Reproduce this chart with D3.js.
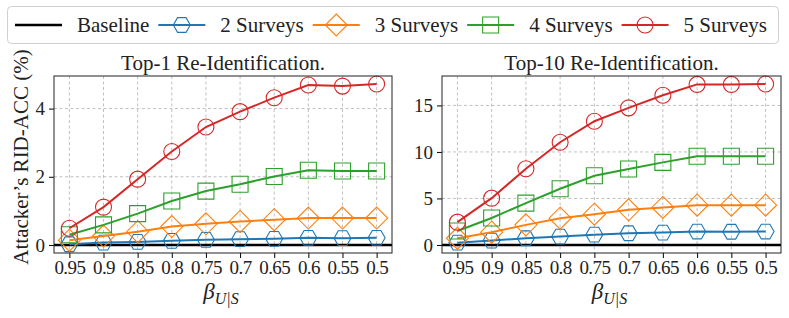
<!DOCTYPE html>
<html>
<head>
<meta charset="utf-8">
<script src="https://cdn.jsdelivr.net/npm/d3@7"></script>
<style>
  body { margin: 0; background: #fff; }
  svg { font-family: "Liberation Serif", "DejaVu Serif", serif; }
  svg text { font-family: "Liberation Serif", "DejaVu Serif", serif !important; }
  .grid line { stroke: #b0b0b0; stroke-width: 0.8; stroke-dasharray: 3,2.5; }
  .axis path, .axis line { stroke: #000; }
</style>
</head>
<body>
<svg id="chart" width="789" height="318"></svg>
<script>
// x categories (beta_{U|S})
var betas = ['0.95', '0.9', '0.85', '0.8', '0.75', '0.7', '0.65', '0.6', '0.55', '0.5'];

// Top-1 re-identification accuracy (%)
var top1Two = [0.02, 0.07, 0.09, 0.12, 0.15, 0.17, 0.18, 0.21, 0.20, 0.21];
var top1Three = [0.14, 0.26, 0.39, 0.54, 0.62, 0.69, 0.74, 0.79, 0.79, 0.79];
var top1Four = [0.30, 0.59, 0.92, 1.29, 1.58, 1.78, 2.01, 2.19, 2.17, 2.17];
var top1Five = [0.49, 1.11, 1.93, 2.74, 3.46, 3.91, 4.32, 4.69, 4.66, 4.72];

// Top-10 re-identification accuracy (%)
var top10Two = [0.25, 0.47, 0.72, 0.90, 1.11, 1.26, 1.33, 1.44, 1.42, 1.44];
var top10Three = [0.72, 1.37, 2.16, 2.88, 3.31, 3.78, 4.03, 4.28, 4.28, 4.28];
var top10Four = [1.50, 2.90, 4.50, 6.04, 7.44, 8.16, 8.88, 9.53, 9.53, 9.53];
var top10Five = [2.45, 5.03, 8.20, 11.04, 13.30, 14.74, 16.10, 17.26, 17.26, 17.30];

var baseline = 0;

var top1Ticks = [0, 2, 4];
var top10Ticks = [0, 5, 10, 15];

var seriesNames = ['Baseline', '2 Surveys', '3 Surveys', '4 Surveys', '5 Surveys'];
var colors = ['#000000', '#1f77b4', '#ff7f0e', '#2ca02c', '#d62728'];
var markers = [null, 'hex', 'diamond', 'square', 'circle'];

var svg = d3.select('#chart');

function markerPath(type) {
  var p = d3.path();
  if (type === 'circle') {
    p.arc(0, 0, 8, 0, 2 * Math.PI);
  } else if (type === 'square') {
    p.rect(-8, -8, 16, 16);
  } else if (type === 'diamond') {
    p.moveTo(0, -11); p.lineTo(11, 0); p.lineTo(0, 11); p.lineTo(-11, 0); p.closePath();
  } else if (type === 'hex') {
    for (var k = 0; k < 6; k++) {
      var a = k * Math.PI / 3;
      var px = 8.5 * Math.cos(a), py = 8.5 * Math.sin(a);
      if (k === 0) p.moveTo(px, py); else p.lineTo(px, py);
    }
    p.closePath();
  }
  return p.toString();
}

function panel(opts) {
  var g = svg.append('g');
  var n = betas.length;
  var x = d3.scaleLinear().domain([-0.45, n - 1 + 0.45]).range([opts.x0, opts.x1]);
  var allVals = [].concat.apply([baseline], opts.series);
  var lo = d3.min(allVals), hi = d3.max(allVals), pad = (hi - lo) * 0.05;
  var y = d3.scaleLinear().domain([lo - pad, hi + pad]).range([opts.y1, opts.y0]);

  // grid
  var grid = g.append('g').attr('class', 'grid');
  grid.selectAll('.gx').data(betas).enter().append('line')
    .attr('x1', (d, i) => x(i)).attr('x2', (d, i) => x(i))
    .attr('y1', opts.y0).attr('y2', opts.y1);
  grid.selectAll('.gy').data(opts.ticks).enter().append('line')
    .attr('x1', opts.x0).attr('x2', opts.x1)
    .attr('y1', d => y(d)).attr('y2', d => y(d));

  // baseline
  g.append('line')
    .attr('x1', opts.x0).attr('x2', opts.x1)
    .attr('y1', y(baseline)).attr('y2', y(baseline))
    .attr('stroke', '#000').attr('stroke-width', 2.5);

  var line = d3.line().x((d, i) => x(i)).y(d => y(d));

  opts.series.forEach(function(vals, s) {
    var c = colors[s + 1];
    g.append('path').attr('d', line(vals))
      .attr('fill', 'none').attr('stroke', c).attr('stroke-width', 2);
    g.selectAll('.m' + s).data(vals).enter().append('path')
      .attr('transform', (d, i) => `translate(${x(i)},${y(d)})`)
      .attr('d', markerPath(markers[s + 1]))
      .attr('fill', 'none').attr('stroke', c).attr('stroke-width', 1.1);
  });

  // axes
  var xa = g.append('g').attr('class', 'axis')
    .attr('transform', `translate(0,${opts.y1})`)
    .call(d3.axisBottom(x).tickValues(d3.range(n)).tickFormat(i => betas[i])
      .tickSize(5).tickPadding(3));
  xa.attr('font-size', 19);
  xa.select('.domain').remove();
  xa.selectAll('text').attr('fill', '#222').style('letter-spacing', '-0.6px');

  var ya = g.append('g').attr('class', 'axis')
    .attr('transform', `translate(${opts.x0},0)`)
    .call(d3.axisLeft(y).tickValues(opts.ticks).tickFormat(d3.format('d'))
      .tickSize(5).tickPadding(4));
  ya.attr('font-size', 19);
  ya.select('.domain').remove();
  ya.selectAll('text').attr('fill', '#222');

  g.append('rect')
    .attr('x', opts.x0).attr('y', opts.y0)
    .attr('width', opts.x1 - opts.x0).attr('height', opts.y1 - opts.y0)
    .attr('fill', 'none').attr('stroke', '#222').attr('stroke-width', 1);

  var cx = (opts.x0 + opts.x1) / 2;
  g.append('text').attr('x', cx).attr('y', 70)
    .attr('text-anchor', 'middle').attr('font-size', 21).attr('fill', '#222')
    .text(opts.title);

  var xl = g.append('text').attr('x', cx - 2).attr('y', 299)
    .attr('text-anchor', 'middle').attr('fill', '#222').attr('font-style', 'italic');
  xl.append('tspan').attr('font-size', 23).text('β');
  xl.append('tspan').attr('font-size', 16).attr('dy', 5).text('U|S');
}

panel({ x0: 54, x1: 392, y0: 76, y1: 253, title: 'Top-1 Re-Identification.',
  series: [top1Two, top1Three, top1Four, top1Five], ticks: top1Ticks });
panel({ x0: 442, x1: 781, y0: 76, y1: 253, title: 'Top-10 Re-Identification.',
  series: [top10Two, top10Three, top10Four, top10Five], ticks: top10Ticks });

// y label
svg.append('text')
  .attr('transform', 'translate(28,157) rotate(-90)')
  .attr('text-anchor', 'middle').attr('font-size', 21).attr('fill', '#222')
  .text('Attacker\u2019s RID-ACC (%)');

// legend
var leg = svg.append('g');
leg.append('rect').attr('x', 7.5).attr('y', 6.5).attr('width', 771).attr('height', 37)
  .attr('rx', 4).attr('fill', '#fff').attr('stroke', '#d0d0d0').attr('stroke-width', 1);
var lx = 15;
seriesNames.forEach(function(name, i) {
  var e = leg.append('g');
  e.append('line').attr('x1', lx).attr('x2', lx + 47).attr('y1', 25).attr('y2', 25)
    .attr('stroke', colors[i]).attr('stroke-width', i === 0 ? 2.5 : 2);
  if (markers[i]) {
    e.append('path').attr('transform', `translate(${lx + 23.5},25)`)
      .attr('d', markerPath(markers[i])).attr('fill', 'none')
      .attr('stroke', colors[i]).attr('stroke-width', 1.1);
  }
  var t = e.append('text').attr('x', lx + 62).attr('y', 32)
    .attr('font-size', 21).attr('fill', '#222').text(name);
  lx += 62 + t.node().getComputedTextLength() + 9;
});
</script>
</body>
</html>
